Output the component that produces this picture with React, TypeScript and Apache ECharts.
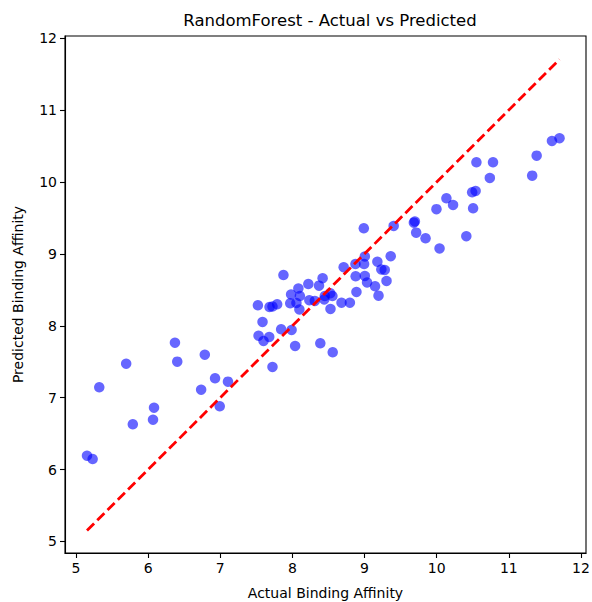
import React, { useEffect, useRef } from "react";
import * as echarts from "echarts";

const title = "RandomForest - Actual vs Predicted";
const xName = "Actual Binding Affinity";
const yName = "Predicted Binding Affinity";
const tickValues = [5, 6, 7, 8, 9, 10, 11, 12];

const actual = [
  8.681, 8.797, 8.711, 8.874, 9.004, 8.994, 8.877, 9.004, 9.035, 9.178,
  9.233, 9.28, 9.363, 9.146, 9.194, 9.305, 8.888, 8.99, 9.404, 7.522,
  7.683, 7.724, 7.789, 7.876, 7.586, 7.531, 7.6, 7.679, 7.844, 7.989,
  7.724, 8.038, 8.387, 8.559, 7.982, 8.083, 8.104, 7.97, 8.056, 8.097,
  8.221, 8.369, 8.419, 8.235, 8.311, 8.449, 8.525, 8.555, 8.442, 8.528,
  11.703, 11.598, 11.386, 11.324, 10.551, 10.781, 10.737, 10.492, 10.54, 10.135,
  10.227, 9.997, 10.505, 9.684, 9.698, 9.716, 9.846, 10.04, 10.411, 6.372,
  6.786, 5.696, 6.404, 5.323, 6.928, 6.735, 7.107, 6.082, 6.993, 6.068,
  5.788, 5.153, 5.231,
];

const predicted = [
  8.321, 8.321, 8.814, 8.859, 8.964, 8.859, 8.688, 8.693, 8.602, 8.891,
  8.783, 8.776, 8.967, 8.549, 8.419, 8.623, 8.47, 9.356, 9.388, 8.285,
  8.261, 8.268, 8.299, 8.706, 8.053, 7.862, 7.789, 7.844, 7.951, 7.942,
  7.427, 7.719, 7.757, 7.631, 8.435, 8.519, 8.414, 8.313, 8.317, 8.227,
  8.581, 8.558, 8.661, 8.356, 8.345, 8.414, 8.452, 8.414, 8.366, 8.234,
  10.608, 10.57, 10.366, 10.088, 10.274, 10.274, 10.056, 9.857, 9.875, 9.773,
  9.68, 9.622, 9.634, 9.434, 9.451, 9.295, 9.217, 9.075, 9.246, 7.765,
  7.598, 7.473, 7.501, 7.145, 7.27, 7.111, 7.223, 6.861, 6.88, 6.694,
  6.63, 6.193, 6.147,
];

const FONT = "DejaVu Sans";

export default function App() {
  const ref = useRef<HTMLDivElement>(null);
  useEffect(() => {
    if (!ref.current) return;
    const chart = echarts.init(ref.current, null, { renderer: "svg" });
    const lo = Math.min(...actual);
    const hi = Math.max(...actual);
    const axisCommon = {
      type: "value" as const,
      splitLine: { show: false },
      axisLine: { show: true, lineStyle: { color: "#000", width: 1.1 } },
      axisTick: {
        show: true,
        inside: false,
        length: 5,
        lineStyle: { color: "#000", width: 1.1 },
        customValues: tickValues,
      },
      axisLabel: {
        color: "#000",
        fontFamily: FONT,
        fontSize: 14,
        margin: 8,
        customValues: tickValues,
        formatter: (v: number) => String(v),
      },
      nameLocation: "middle" as const,
      nameTextStyle: { color: "#000", fontFamily: FONT, fontSize: 14 },
    };
    chart.setOption({
      animation: false,
      backgroundColor: "#fff",
      title: {
        text: title,
        left: 325,
        textAlign: "center",
        top: 7,
        textStyle: {
          fontFamily: FONT,
          fontSize: 16.5,
          fontWeight: "normal",
          color: "#000",
        },
      },
      grid: {
        left: 65,
        right: 6,
        top: 36,
        bottom: 49,
        show: true,
        borderColor: "#000",
        borderWidth: 1.1,
        backgroundColor: "transparent",
        outerBoundsMode: "none",
        containLabel: false,
      },
      xAxis: { ...axisCommon, min: 4.848, max: 12.07, name: xName, nameGap: 33 },
      yAxis: { ...axisCommon, min: 4.84, max: 12.03, name: yName, nameGap: 40 },
      series: [
        {
          type: "scatter",
          data: actual.map((a, i) => [a, predicted[i]]),
          symbol: "circle",
          symbolSize: 10.5,
          itemStyle: { color: "rgba(0,0,255,0.75)" },
          z: 2,
        },
        {
          type: "line",
          data: [
            [lo, lo],
            [hi, hi],
          ],
          symbol: "none",
          lineStyle: { color: "#ff0000", width: 2.8, type: [10, 4.5] },
          z: 3,
        },
      ],
    });
    return () => chart.dispose();
  }, []);
  return (
    <div
      ref={ref}
      style={{ position: "absolute", left: 0, top: 0, width: 592, height: 602 }}
    />
  );
}
